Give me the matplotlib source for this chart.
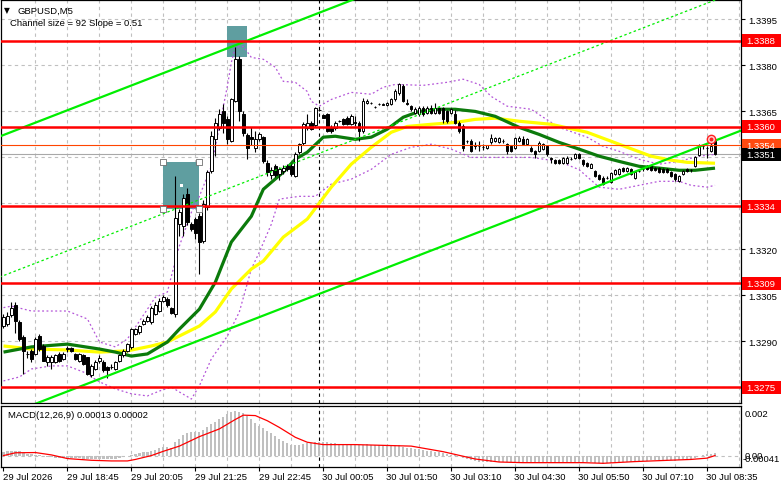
import matplotlib
matplotlib.use("Agg")
import matplotlib.pyplot as plt
import numpy as np
from matplotlib.patches import Rectangle
from matplotlib.transforms import blended_transform_factory

# ---------------- data (prices in pips above 1.3300) ----------------
BASE = 1.3300
PIP = 0.0001

open_p = [
    -4.9, -4.3, -1.3, 1.7, -3.8, -8.7, -14.0, -13.0, -14.1, -8.1,
    -11.4, -16.8, -16.8, -16.8, -14.1, -15.7, -12.5, -12.1, -14.1, -16.3,
    -14.6, -15.2, -21.1, -19.0, -16.3, -16.8, -18.4, -18.5, -19.0, -16.3,
    -14.6, -13.0, -11.9, -7.6, -7.0, -4.3, -3.2, -3.8, -1.1, 0.0,
    3.3, 3.8, 0.9, -1.1, 28.3, 27.7, 38.0, 28.3, 29.9, 31.0,
    22.8, 33.7, 45.6, 56.1, 59.7, 65.1, 62.4, 55.4, 68.4, 82.2,
    64.1, 57.2, 56.5, 53.2, 56.0, 56.5, 48.3, 44.2, 47.2, 44.5,
    45.6, 47.2, 47.2, 44.0, 51.6, 54.8, 59.7, 61.1, 60.5, 65.5,
    63.8, 64.1, 60.0, 59.7, 61.9, 62.4, 63.0, 60.8, 61.4, 61.3,
    58.6, 67.8, 67.9, 66.6, 67.3, 67.2, 67.0, 67.3, 68.9, 71.1,
    73.3, 67.8, 66.7, 64.6, 64.0, 66.2, 64.6, 66.2, 64.6, 66.2,
    66.2, 65.1, 64.6, 64.0, 61.3, 60.2, 55.4, 55.4, 53.9, 53.7,
    53.5, 53.2, 55.0, 55.4, 55.0, 55.4, 54.3, 53.7, 53.2, 55.5,
    56.1, 54.3, 53.2, 52.1, 52.1, 52.7, 53.7, 49.7, 49.2, 49.1,
    48.3, 48.3, 49.6, 49.9, 51.0, 49.2, 48.3, 46.7, 45.6, 44.2,
    43.4, 43.4, 42.0, 44.5, 44.5, 46.7, 45.6, 46.1, 43.4, 45.6,
    46.1, 47.2, 47.2, 46.7, 46.7, 46.1, 46.1, 45.3, 44.5, 42.3,
    44.5, 46.1, 45.9, 47.1, 50.7, 53.8, 53.2, 52.1, 55.3]

high_p = [
    -1.0, -0.5, 2.7, 2.7, -3.0, -8.0, -13.0, -12.5, -8.5, -7.5,
    -11.0, -14.5, -14.5, -14.0, -13.5, -13.5, -11.5, -11.9, -13.8, -13.8,
    -14.0, -15.0, -17.5, -16.0, -14.5, -16.2, -18.0, -17.5, -16.5, -14.0,
    -12.5, -10.5, -5.5, -5.5, -4.5, -2.8, -1.5, 1.5, 3.0, 4.0,
    5.0, 4.5, 1.2, 44.0, 33.1, 38.0, 40.0, 29.0, 30.5, 32.0,
    36.0, 46.0, 58.6, 63.0, 65.7, 67.3, 63.5, 69.5, 86.1, 83.0,
    65.0, 58.0, 60.0, 58.6, 58.2, 57.0, 49.0, 47.0, 48.0, 46.8,
    47.5, 48.0, 47.8, 51.6, 54.8, 61.5, 64.0, 61.8, 66.5, 66.0,
    64.0, 64.5, 60.5, 62.0, 62.2, 62.8, 63.5, 64.0, 63.5, 61.8,
    69.5, 69.0, 68.2, 66.9, 67.6, 67.6, 68.2, 69.3, 72.2, 74.4,
    73.8, 69.1, 67.0, 66.5, 66.8, 66.8, 66.8, 67.0, 67.8, 66.6,
    66.6, 65.5, 66.2, 65.5, 61.8, 60.8, 55.8, 56.0, 55.0, 55.2,
    54.5, 54.2, 57.5, 56.8, 56.8, 56.0, 54.6, 54.0, 56.8, 57.0,
    57.0, 56.3, 53.6, 52.4, 55.4, 54.6, 54.0, 50.0, 49.5, 49.4,
    50.2, 50.3, 50.0, 51.4, 51.4, 49.5, 48.6, 48.2, 46.0, 44.6,
    43.8, 44.0, 45.2, 46.3, 46.5, 47.0, 46.8, 46.5, 45.5, 46.0,
    46.8, 47.6, 47.5, 47.0, 47.0, 46.5, 46.4, 45.6, 44.8, 44.3,
    46.0, 46.4, 46.3, 50.3, 54.4, 54.2, 53.6, 55.0, 55.6]

low_p = [
    -5.5, -5.0, -2.0, -7.2, -10.0, -20.6, -15.5, -16.8, -14.5, -13.0,
    -16.5, -17.9, -19.0, -17.2, -16.6, -16.2, -13.5, -13.4, -16.0, -16.8,
    -17.8, -21.0, -21.5, -19.5, -17.0, -20.0, -22.0, -19.0, -19.5, -16.6,
    -15.0, -13.5, -12.5, -8.0, -7.5, -4.8, -3.8, -4.2, -1.5, -0.5,
    2.8, 1.2, -1.2, -2.2, 24.5, 24.5, 28.0, 26.0, 23.3, 12.0,
    22.2, 33.0, 45.0, 50.5, 59.0, 58.1, 54.3, 55.0, 68.0, 61.9,
    57.0, 49.4, 54.0, 51.6, 55.5, 48.3, 44.0, 43.0, 43.5, 42.5,
    44.5, 45.5, 44.0, 43.5, 51.0, 54.2, 59.0, 58.8, 59.8, 65.0,
    62.8, 58.2, 58.0, 59.0, 61.6, 60.5, 60.5, 60.5, 60.2, 55.3,
    58.0, 67.5, 67.5, 66.2, 67.0, 67.0, 66.8, 67.0, 68.5, 70.5,
    68.0, 67.0, 65.0, 64.0, 63.5, 63.5, 64.0, 64.0, 64.2, 64.2,
    61.3, 61.3, 64.0, 60.8, 58.0, 52.1, 54.8, 51.8, 52.8, 52.0,
    52.5, 52.8, 54.5, 55.0, 54.6, 54.8, 51.0, 51.8, 52.8, 55.0,
    54.0, 54.0, 51.8, 49.9, 51.8, 52.4, 50.6, 48.3, 48.0, 48.0,
    48.0, 48.0, 49.2, 49.6, 49.6, 47.2, 47.0, 46.4, 43.6, 42.6,
    41.0, 42.8, 41.7, 44.2, 44.2, 45.3, 45.3, 44.2, 43.1, 45.2,
    45.5, 45.8, 45.6, 45.6, 45.0, 45.0, 44.8, 43.7, 42.3, 42.0,
    44.2, 45.3, 45.4, 46.9, 50.4, 52.7, 49.9, 51.8, 50.8]

close_p = [
    -2.1, -1.6, 0.9, -3.2, -9.2, -13.0, -14.1, -15.7, -9.2, -12.5,
    -16.3, -15.2, -15.2, -14.6, -16.3, -14.1, -12.3, -13.2, -15.7, -14.1,
    -17.3, -20.6, -17.9, -16.8, -15.5, -19.5, -19.5, -18.2, -16.8, -14.6,
    -13.0, -10.8, -5.9, -5.9, -4.9, -3.2, -2.1, 0.9, 1.7, 3.3,
    4.4, 1.7, -0.7, 30.4, 32.1, 36.9, 28.8, 26.6, 25.5, 22.3,
    34.8, 45.1, 57.0, 61.1, 64.1, 61.3, 55.9, 68.9, 82.2, 65.1,
    58.1, 53.2, 56.0, 56.1, 57.5, 48.9, 45.1, 45.9, 44.2, 46.1,
    46.7, 46.1, 44.5, 51.0, 54.3, 60.8, 61.1, 59.2, 66.2, 65.5,
    63.0, 58.6, 58.6, 61.3, 61.9, 60.8, 60.8, 63.5, 61.3, 58.6,
    68.4, 68.4, 67.8, 66.5, 67.3, 67.3, 67.8, 68.9, 71.6, 73.8,
    68.4, 67.3, 65.7, 65.9, 66.2, 64.0, 66.2, 64.6, 66.2, 64.6,
    62.4, 61.9, 65.7, 61.3, 58.6, 53.2, 55.3, 52.1, 53.7, 53.6,
    53.5, 53.9, 56.4, 56.4, 56.4, 55.4, 52.1, 52.1, 56.4, 56.2,
    54.3, 55.9, 52.1, 51.0, 54.8, 54.3, 51.0, 49.6, 48.3, 48.3,
    49.9, 49.9, 49.6, 51.0, 49.9, 47.8, 47.2, 47.8, 44.0, 42.9,
    41.3, 43.4, 44.8, 45.9, 46.1, 45.6, 46.4, 44.5, 45.1, 45.6,
    46.1, 46.1, 45.9, 45.9, 45.3, 45.3, 45.1, 44.0, 42.9, 44.0,
    45.6, 45.6, 45.8, 50.0, 54.0, 53.7, 53.0, 53.7, 51.0]

# moving averages (vertices: bar index, pips)
green_idx = [0, 7, 16, 24, 28, 32, 36, 41, 44, 49, 53, 57, 62, 65, 70, 73, 76, 80, 83, 88,
             92, 96, 100, 104, 109, 113, 118, 123, 129, 134, 139, 144, 149, 154, 159, 164, 169, 173, 178]
green_p = [-13.5, -11.8, -10.9, -12.5, -13.5, -14.8, -14.1, -10.2, -6.0, 0.5, 9.3, 22.4, 30.8, 39.6,
           45.2, 49.4, 51.7, 56.6, 56.9, 55.9, 56.6, 59.2, 63.1, 65.0, 65.7, 65.7, 65.0, 63.4, 59.8,
           57.5, 54.9, 52.7, 50.4, 48.7, 47.1, 46.5, 45.8, 45.8, 46.5]
yellow_idx = [0, 7, 16, 24, 31, 37, 41, 45, 49, 53, 57, 62, 65, 70, 76, 82, 87, 92, 97, 101,
              107, 113, 118, 123, 129, 137, 146, 154, 162, 167, 171, 178]
yellow_p = [-11.5, -12.5, -12.8, -13.5, -13.1, -11.5, -10.2, -7.6, -5.0, -0.4, 7.1, 13.6, 16.2,
            24.0, 29.9, 40.3, 47.8, 53.3, 58.2, 60.1, 60.8, 61.4, 62.4, 62.8, 61.8, 60.8, 58.2,
            54.3, 50.4, 49.1, 48.4, 48.1]

# envelope bands (dotted)
upper_idx = [0, 2, 7, 16, 21, 24, 28, 31, 34, 38, 41, 42, 44, 47, 49, 52, 54, 56, 57, 58, 60, 62,
             65, 68, 70, 73, 76, 77, 79, 82, 87, 92, 95, 98, 105, 111, 115, 119, 122, 126, 132,
             135, 139, 146, 150, 154, 159, 164, 169, 174, 178]
upper_p = [1.0, 1.5, -0.1, -0.1, -2.7, -10.2, -11.8, -9.2, -3.4, 4.4, 6.1, 11.3, 21.1, 32.1, 37.3,
           47.1, 60.1, 73.2, 81.0, 85.9, 86.2, 82.6, 82.0, 79.4, 74.8, 74.5, 71.5, 68.3, 66.7,
           68.9, 71.2, 70.6, 72.9, 73.8, 73.5, 74.5, 75.5, 73.8, 69.9, 66.7, 65.7, 63.1, 59.8,
           56.6, 53.6, 52.0, 49.4, 47.8, 48.7, 50.4, 51.0]
lower_idx = [0, 4, 7, 12, 16, 20, 24, 28, 32, 36, 39, 42, 44, 47, 49, 52, 56, 59, 62, 64, 67, 69,
             74, 78, 82, 87, 92, 97, 102, 107, 112, 117, 124, 132, 139, 144, 149, 154, 159, 164,
             169, 172, 176, 178]
lower_p = [-22.9, -21.6, -19.0, -18.0, -18.0, -20.0, -23.2, -25.5, -27.1, -27.8, -26.2, -24.9,
           -26.5, -28.8, -24.5, -15.7, -8.3, -0.4, 13.6, 19.1, 28.2, 36.4, 37.3, 37.3, 41.3, 42.9,
           46.1, 51.0, 53.3, 54.3, 52.7, 50.0, 50.0, 50.0, 48.7, 46.0, 40.3, 39.6, 40.9, 42.2,
           42.2, 40.9, 40.3, 40.9]

# regression channel (bar index, pips)
chan_idx = [-1, 186]
chan_upper_p = [56.8, 151.2]
chan_lower_p = [-34.9, 59.5]

# horizontal levels
red_levels = [1.3388, 1.3360, 1.3334, 1.3309, 1.3275]
ask_level = 1.3354
bid_level = 1.3351
price_ticks = [1.3395, 1.3380, 1.3365, 1.3320, 1.3305, 1.3290]
grid_levels = [1.3275, 1.3290, 1.3305, 1.3320, 1.3335, 1.3350, 1.3365, 1.3380, 1.3395]

# rectangles (bar index from/to, price from/to)
boxes = [(40, 49, 1.33331, 1.33484), (56, 61, 1.33826, 1.33930)]
alert_idx, alert_price = 177, 1.33560

# MACD histogram (x1e-4) and signal vertices
macd_hist = [
    2.0, 2.3, 2.5, 2.4, 2.1, 1.6, 1.1, 0.7, 0.6, 0.5,
    0.1, -0.3, -0.6, -0.8, -1.0, -1.1, -1.1, -1.0, -1.0, -1.1,
    -1.2, -1.5, -1.5, -1.4, -1.3, -1.4, -1.5, -1.4, -1.2, -0.9,
    -0.6, -0.2, 0.3, 0.9, 1.3, 1.7, 2.0, 2.5, 3.0, 3.5,
    4.0, 4.1, 3.9, 6.6, 8.0, 9.8, 10.5, 11.0, 11.2, 11.0,
    12.0, 13.6, 15.0, 16.0, 17.0, 18.0, 19.5, 20.5, 21.0, 20.5,
    20.0, 18.5, 17.0, 15.5, 14.0, 13.0, 11.8, 10.5, 9.2, 8.0,
    7.0, 6.0, 5.0, 5.0, 5.2, 5.6, 6.0, 6.2, 6.5, 6.6,
    6.7, 6.5, 6.2, 6.0, 5.8, 5.8, 5.6, 5.6, 5.5, 5.2,
    5.3, 5.4, 5.2, 5.0, 4.9, 4.9, 5.0, 5.1, 5.2, 5.0,
    4.4, 3.9, 3.6, 3.4, 3.2, 2.8, 2.5, 2.2, 2.0, 1.8,
    1.5, 1.0, 0.6, 0.3, -0.2, -1.0, -1.5, -2.0, -2.3, -2.6,
    -2.8, -2.9, -2.8, -2.7, -2.7, -2.8, -3.0, -3.0, -2.9, -2.9,
    -2.9, -2.8, -2.9, -3.0, -2.9, -2.8, -2.9, -3.0, -3.1, -3.1,
    -3.0, -2.9, -2.9, -2.8, -2.8, -2.9, -3.0, -3.0, -3.2, -3.4,
    -3.5, -3.4, -3.2, -3.0, -2.8, -2.7, -2.6, -2.6, -2.5, -2.4,
    -2.2, -2.1, -2.0, -2.0, -1.9, -1.9, -1.9, -2.0, -2.1, -1.9,
    -1.6, -1.4, -1.2, -0.8, -0.2, 0.4, 0.7, 1.0, 1.3]
sig_idx = [0, 3, 8, 12, 16, 22, 27, 31, 33, 37, 40, 44, 49, 54, 58, 60, 63, 66, 69, 73, 76, 80,
           88, 94, 102, 110, 118, 124, 130, 145, 150, 158, 165, 172, 176, 178]
sig_val = [0.2, 1.5, 1.6, 0.5, -1.2, -2.0, -2.3, -2.3, -1.6, 0.2, 2.2, 4.6, 9.0, 12.6, 17.0,
           19.0, 18.8, 16.4, 13.3, 8.7, 6.4, 5.3, 5.3, 5.0, 4.6, 2.0, -1.4, -2.8, -3.1, -3.1,
           -3.4, -2.6, -2.1, -1.6, -1.0, 0.2]

xtick_idx = [0, 16, 32, 48, 64, 80, 96, 112, 128, 144, 160, 176]
xtick_labels = ["29 Jul 2026", "29 Jul 18:45", "29 Jul 20:05", "29 Jul 21:25", "29 Jul 22:45",
                "30 Jul 00:05", "30 Jul 01:50", "30 Jul 03:10", "30 Jul 04:30", "30 Jul 05:50",
                "30 Jul 07:10", "30 Jul 08:35"]
separator_idx = 79

assert len(open_p) == len(high_p) == len(low_p) == len(close_p) == len(macd_hist) == 179

# ---------------- figure ----------------
plt.rcParams['font.family'] = ['Liberation Sans', 'DejaVu Sans']
FS = 6.8
W, H = 781, 489
fig = plt.figure(figsize=(W / 100, H / 100), dpi=100)
fig.patch.set_facecolor('white')


def px_axes(l, t, r, b):
    return fig.add_axes([l / W, 1 - b / H, (r - l) / W, (b - t) / H])


ax = px_axes(0.5, 0.5, 741, 404)
mx = px_axes(0.5, 407, 741, 468)

XL = (-0.75, 184.5)
YL = (1.32699, 1.34015)
for a in (ax, mx):
    a.set_xlim(*XL)
    a.set_facecolor('white')
    for s in a.spines.values():
        s.set_color('black')
        s.set_linewidth(0.9)
ax.set_ylim(*YL)
mx.set_ylim(-0.000512, 0.002326)

n = len(close_p)
idx = np.arange(n)
O = BASE + np.array(open_p) * PIP
Hh = BASE + np.array(high_p) * PIP
L = BASE + np.array(low_p) * PIP
C = BASE + np.array(close_p) * PIP

gridc = '#c0c0c0'
dash = (0, (3, 3))
for k in range(1, 24):
    ax.axvline(8 * k, color=gridc, ls=dash, lw=0.8, zorder=0)
    mx.axvline(8 * k, color=gridc, ls=dash, lw=0.8, zorder=0)
for g in grid_levels:
    ax.axhline(g, color=gridc, ls=dash, lw=0.8, zorder=0)
mx.axhline(0, color=gridc, ls=dash, lw=0.8, zorder=0)
ax.axvline(separator_idx, color='black', ls=dash, lw=0.8, zorder=1)
mx.axvline(separator_idx, color='black', ls=dash, lw=0.8, zorder=1)

# rectangles
for (x0, x1, p0, p1) in boxes:
    ax.add_patch(Rectangle((x0, p0), x1 - x0, p1 - p0, facecolor='#5f9ea0', edgecolor='none', zorder=2))
bx0, bx1, bp0, bp1 = boxes[0]
hx = [bx0, bx1, bx0, bx1]
hy = [bp0, bp0, bp1, bp1]
ax.scatter(hx, hy, marker='s', s=14, facecolor='white', edgecolor='#707070', linewidths=0.6, zorder=7)
ax.scatter([(bx0 + bx1) / 2], [(bp0 + bp1) / 2], marker='s', s=6, facecolor='white', edgecolor='none', zorder=7)

# bands
band_c = '#b456d8'
ax.plot(upper_idx, BASE + np.array(upper_p) * PIP, color=band_c, ls=(0, (1.5, 2)), lw=0.9, zorder=3)
ax.plot(lower_idx, BASE + np.array(lower_p) * PIP, color=band_c, ls=(0, (1.5, 2)), lw=0.9, zorder=3)

# moving averages
ax.plot(yellow_idx, BASE + np.array(yellow_p) * PIP, color='#ffff00', lw=2.3, zorder=3, solid_capstyle='butt')
ax.plot(green_idx, BASE + np.array(green_p) * PIP, color='#0b7a0b', lw=2.3, zorder=3, solid_capstyle='butt')

# candles
ax.vlines(idx, L, Hh, color='black', lw=0.8, zorder=4)
bull = C >= O
bottom = np.minimum(O, C)
height = np.maximum(np.abs(C - O), 0.02 * PIP)
ax.bar(idx, height, bottom=bottom, width=0.62, color=np.where(bull, 'white', 'black'),
       edgecolor='black', linewidth=0.7, zorder=5)

# channel
cu = BASE + np.array(chan_upper_p) * PIP
cl = BASE + np.array(chan_lower_p) * PIP
ax.plot(chan_idx, cu, color='#00ee00', lw=1.6, zorder=6)
ax.plot(chan_idx, cl, color='#00ee00', lw=1.6, zorder=6)
ax.plot(chan_idx, (cu + cl) / 2, color='#00ee00', lw=0.9, ls=(0, (2, 2)), zorder=6)

# horizontal lines
for lv in red_levels:
    ax.axhline(lv, color='#ff0000', lw=1.8, zorder=6)
ax.axhline(ask_level, color='#ff4500', lw=0.8, zorder=6)
ax.axhline(bid_level, color='#a8a8a8', lw=0.8, zorder=1)

# alert marker
ax.plot([alert_idx], [alert_price], marker='o', ms=6, mfc='#ffd0d0', mec='#ff2020', mew=1.0, zorder=8)
ax.plot([alert_idx], [alert_price], marker='o', ms=1.8, color='#ff2020', zorder=9)

# right price axis
ax.yaxis.tick_right()
ax.set_yticks(price_ticks)
ax.set_yticklabels([f"{t:.4f}" for t in price_ticks])
ax.tick_params(axis='y', direction='out', length=3, width=0.8, pad=2, labelsize=FS, colors='black')
ax.set_xticks([])

trans = blended_transform_factory(ax.transAxes, ax.transData)
half = 6.5 / 30700
label_specs = [(lv, '#ff0000', 'white') for lv in red_levels] + \
              [(ask_level, '#ff4a10', 'white'), (bid_level, '#000000', 'white')]
for lv, bg, fg in label_specs:
    ax.add_patch(Rectangle((1.0015, lv - half), 40 / 740, 2 * half, transform=trans,
                           facecolor=bg, edgecolor='none', clip_on=False, zorder=10))
    ax.text(1.0 + 5 / 740, lv, f"{lv:.4f}", transform=trans, color=fg, fontsize=FS,
            va='center', ha='left', zorder=11, clip_on=False)

# header text
fig.text(4 / W, 1 - 11 / H, "▼", fontsize=5.5, va='center', ha='left', family='DejaVu Sans')
fig.text(18 / W, 1 - 11 / H, "GBPUSD,M5", fontsize=FS, va='center', ha='left')
fig.text(10 / W, 1 - 24 / H, "Channel size = 92 Slope = 0.51", fontsize=FS, va='center', ha='left')

# MACD
mx.bar(idx, np.array(macd_hist) * 1e-4, width=0.55, color='#c0c0c0', zorder=2)
mx.plot(sig_idx, np.array(sig_val) * 1e-4, color='#ff0000', lw=0.9, zorder=3)
mx.text(7 / 740, 1 - 9 / 61, "MACD(12,26,9) 0.00013 0.00002", transform=mx.transAxes,
        fontsize=FS, va='center', ha='left')
mx.set_yticks([])
mt = blended_transform_factory(mx.transAxes, mx.transData)
mx.text(1.0 + 4 / 740, 0.002, "0.002", transform=mt, fontsize=FS, va='center', ha='left', clip_on=False)
mx.text(1.0 + 4 / 740, 0.00003, "0.00", transform=mt, fontsize=FS, va='center', ha='left', clip_on=False)
mx.text(1.0 + 2 / 740, -0.00012, "-0.00041", transform=mt, fontsize=FS, va='center', ha='left', clip_on=False)

mx.set_xticks(xtick_idx)
mx.set_xticklabels([''] * len(xtick_idx))
mx.tick_params(axis='x', direction='out', length=3, width=0.8)
xt = blended_transform_factory(mx.transData, fig.transFigure)
for ti, lab in zip(xtick_idx, xtick_labels):
    fig.text(ti - 0.2, 1 - 478 / H, lab, transform=xt, fontsize=FS, va='center', ha='left')

fig.savefig("out.png", dpi=100, facecolor='white')
